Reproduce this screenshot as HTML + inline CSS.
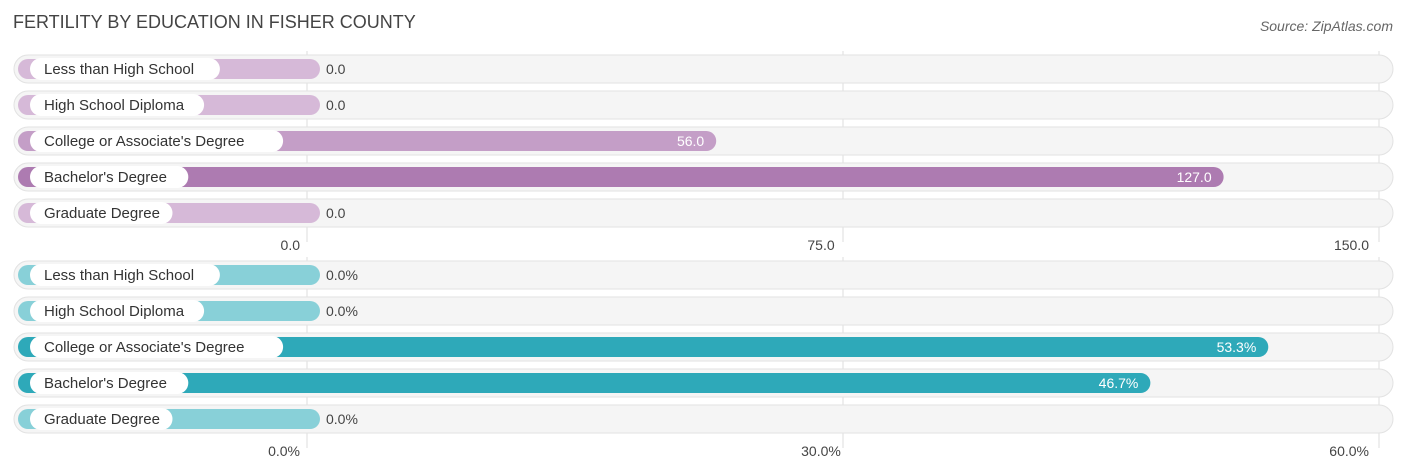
<!DOCTYPE html>
<html><head><meta charset="utf-8"><style>
body{margin:0;background:#fff;font-family:"Liberation Sans",sans-serif;}
svg{display:block}
</style></head><body>
<svg id="chart" width="1406" height="475">
<text x="13" y="28" font-size="18" fill="#444">FERTILITY BY EDUCATION IN FISHER COUNTY</text>
<text x="1393" y="31" font-size="14" fill="#666" font-style="italic" text-anchor="end">Source: ZipAtlas.com</text>
<g id="top"></g><g id="bot"></g>
</svg>
<script>
const categories=["Less than High School","High School Diploma","College or Associate's Degree","Bachelor's Degree","Graduate Degree"];
const countValues=[0,0,56,127,0];
const pctValues=[0,0,53.3,46.7,0];
const countTicks=[0,75,150];
const pctTicks=[0,30,60];
const NS="http://www.w3.org/2000/svg";
function mk(p,t,a){const e=document.createElementNS(NS,t);for(const k in a)e.setAttribute(k,a[k]);p.appendChild(e);return e;}
function draw(gid,vals,ticks,max,y0,axisY,fmt,tfmt,strong,light,mid){
  const g=document.getElementById(gid);
  const gx=v=>307+v/max*1072;
  const bx=v=>Math.max(320,gx(v)+ (v>0?9:0));
  ticks.forEach((t,i)=>{
    const l=mk(g,'line',{x1:gx(t),x2:gx(t),y1:y0-18,y2:axisY-8,stroke:'#ddd','stroke-width':1});
    
    
  });
  vals.forEach((v,i)=>{
    const cy=y0+i*36;
    const bg=mk(g,'rect',{x:14,y:cy-14,width:1379,height:28,rx:14,fill:'#f5f5f5',stroke:'#e2e2e2'});
    
    
    const end=bx(v);
    const col=v===Math.max(...vals)?strong:(v>0?mid:light);
    const b=mk(g,'rect',{x:18,y:cy-10,width:end-18,height:20,rx:10,fill:col});
    
    
    const tw=categories[i].length*7.9+24;
    const p=mk(g,'rect',{x:30,y:cy-11,width:tw,height:22,rx:11,fill:'#fff'});
    
    
    const lt=mk(g,'text',{x:44,y:cy+5,'font-size':15,fill:'#333'});lt.textContent=categories[i];
    
    
    const inside=v>0&&end>500;
    const vt=mk(g,'text',{x:inside?end-12:end+6,y:cy+5,'font-size':14,fill:inside?'#fff':'#444','text-anchor':inside?'end':'start'});
    vt.textContent=fmt(v);
    
    
  });
  ticks.forEach((t,i)=>{
    const x=gx(t);
    const tt=mk(g,'text',{x:i==0?x-7:(i==ticks.length-1?x-10:x-8),y:axisY,'font-size':14,fill:'#444','text-anchor':i==1?'middle':'end'});
    if(i==1)tt.setAttribute('x',x-22);
    tt.textContent=tfmt(t);
    
    
  });
}
draw('top',countValues,countTicks,150,69,250,v=>v.toFixed(1),t=>t.toFixed(1),'#ad7bb1','#d6b9d8','#c49ec7');
draw('bot',pctValues,pctTicks,60,275,456,v=>v.toFixed(1)+'%',t=>t.toFixed(1)+'%','#2ea9b9','#88d0d8','#2ea9b9');
</script>
</body></html>
